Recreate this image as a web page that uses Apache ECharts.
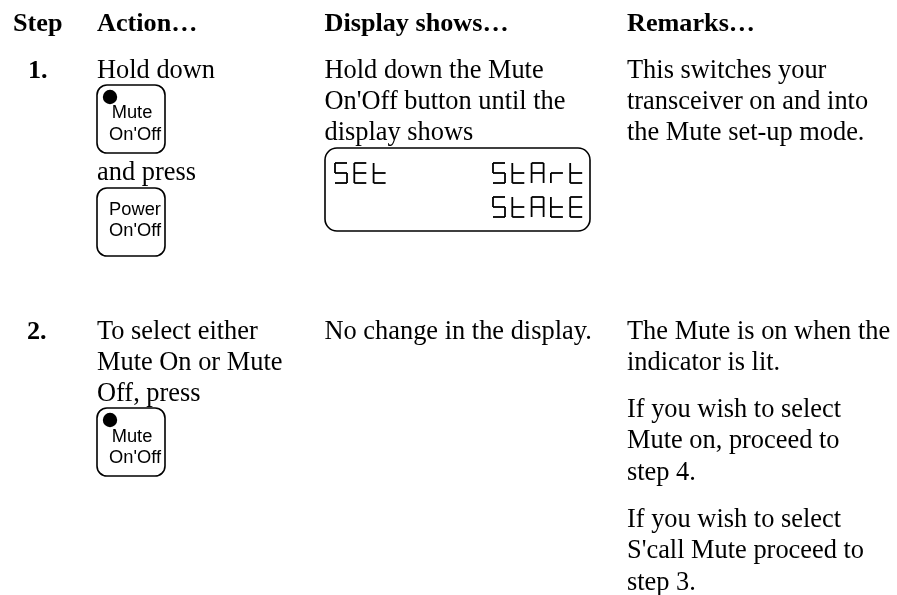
<!DOCTYPE html>
<html>
<head>
<meta charset="utf-8">
<style>
  html, body { margin: 0; padding: 0; background: #fff; }
  #main { width: 897px; height: 595px; }
</style>
<script src="https://cdn.jsdelivr.net/npm/echarts@6/dist/echarts.min.js"></script>
</head>
<body>
<div id="main"></div>
<script>
const headers = ["Step", "Action…", "Display shows…", "Remarks…"];
const stepLabels = ["1.", "2."];
const action1 = ["Hold down", "and press"];
const display1 = ["Hold down the Mute", "On'Off button until the", "display shows"];
const remarks1 = ["This switches your", "transceiver on and into", "the Mute set-up mode."];
const action2 = ["To select either", "Mute On or Mute", "Off, press"];
const display2 = ["No change in the display."];
const remarks2a = ["The Mute is on when the", "indicator is lit."];
const remarks2b = ["If you wish to select", "Mute on, proceed to", "step 4."];
const remarks2c = ["If you wish to select", "S'call Mute proceed to", "step 3."];
const lcdRow1Left = "SEt";
const lcdRow1Right = "StArt";
const lcdRow2Right = "StAtE";

// segments: a top, b upper right, c lower right, d bottom, e lower left, f upper left, g middle
const glyphs = {
  S: "afgcd",
  E: "afged",
  t: "fged",
  A: "abcefg",
  r: "eg"
};

const serif = '"Liberation Serif", "Times New Roman", serif';
const sans = '"Liberation Sans", Arial, sans-serif';
const bodyFont = "26.4px " + serif;
const boldFont = "bold 26.2px " + serif;
const elements = [];

function text(str, x, y, opts) {
  elements.push({
    type: "text",
    x: x,
    y: y,
    style: Object.assign({
      text: str,
      fill: "#000",
      font: bodyFont,
      verticalAlign: "middle"
    }, opts || {})
  });
}

function lines(list, x, y, gap) {
  list.forEach((t, i) => text(t, x, y + i * gap));
}

function button(x, y, top, topX, topY, bottomY, led) {
  elements.push({
    type: "rect",
    shape: { x: x, y: y, width: 68, height: 68, r: 10 },
    style: { fill: "none", stroke: "#000", lineWidth: 1.6 }
  });
  if (led) {
    elements.push({
      type: "circle",
      shape: { cx: x + 13, cy: y + 12, r: 7.2 },
      style: { fill: "#000" }
    });
  }
  const font = "18.3px " + sans;
  text(top, x + topX, y + topY, { font: font, align: "center" });
  text("On'Off", x + 38, y + bottomY, { font: font, align: "center" });
}

function lcdWord(word, x, y) {
  const w = 12, h = 20, pitch = 19.3;
  const seg = {
    a: [[0, 0], [w, 0]],
    b: [[w, 0], [w, h / 2]],
    c: [[w, h / 2], [w, h]],
    d: [[0, h], [w, h]],
    e: [[0, h / 2], [0, h]],
    f: [[0, 0], [0, h / 2]],
    g: [[0, h / 2], [w, h / 2]]
  };
  word.split("").forEach((ch, i) => {
    const ox = x + i * pitch;
    glyphs[ch].split("").forEach((s) => {
      elements.push({
        type: "polyline",
        shape: { points: seg[s].map((p) => [ox + p[0], y + p[1]]) },
        style: { stroke: "#000", lineWidth: 1.8, fill: "none" }
      });
    });
  });
}

const headerX = [13, 97, 324.5, 627];
headers.forEach((h, i) => text(h, headerX[i], 24, { font: boldFont }));

text(stepLabels[0], 28, 71, { font: boldFont });
text(action1[0], 97, 71);
button(97, 85, "Mute", 35, 28, 50, true);
text(action1[1], 97, 173);
button(97, 188, "Power", 38, 22, 43, false);
lines(display1, 324.5, 71, 31);
lines(remarks1, 627, 71, 31);

elements.push({
  type: "rect",
  shape: { x: 325, y: 148, width: 265, height: 83, r: 12 },
  style: { fill: "none", stroke: "#000", lineWidth: 1.6 }
});
lcdWord(lcdRow1Left, 335, 163);
lcdWord(lcdRow1Right, 493, 163);
lcdWord(lcdRow2Right, 493, 197);

text(stepLabels[1], 27, 332, { font: boldFont });
lines(action2, 97, 332, 31);
button(97, 408, "Mute", 35, 29, 50, true);
lines(display2, 324.5, 332, 31);
lines(remarks2a, 627, 332, 31);
lines(remarks2b, 627, 410, 31.5);
lines(remarks2c, 627, 520, 31.5);

const chart = echarts.init(document.getElementById("main"), null, { renderer: "canvas" });
chart.setOption({
  animation: false,
  backgroundColor: "#fff",
  graphic: { elements: elements }
});
</script>
</body>
</html>
